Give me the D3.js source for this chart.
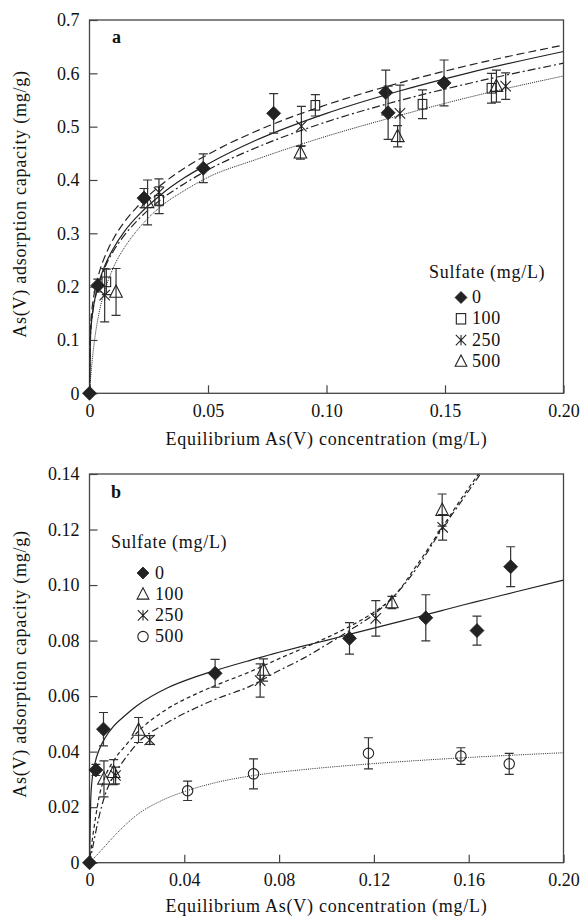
<!DOCTYPE html>
<html><head><meta charset="utf-8">
<script src="https://cdn.jsdelivr.net/npm/d3@7"></script>
<style>
body{margin:0;background:#fff} svg{display:block}
svg text{font-family:'Liberation Serif','Times New Roman','DejaVu Serif',serif !important;}
</style>
</head><body>
<svg id="c" width="582" height="916"></svg>
<script>
// ---------- Panel a data ----------
const aXTicks = [0, 0.05, 0.10, 0.15, 0.20];
const aXTickLabels = ["0", "0.05", "0.10", "0.15", "0.20"];
const aYTicks = [0, 0.1, 0.2, 0.3, 0.4, 0.5, 0.6, 0.7];
const aYTickLabels = ["0", "0.1", "0.2", "0.3", "0.4", "0.5", "0.6", "0.7"];
const aLegendLabels = ["0", "100", "250", "500"];

const aX0 = [0, 0.0035, 0.023, 0.048, 0.0777, 0.125, 0.126, 0.1496];
const aY0 = [0, 0.202, 0.366, 0.422, 0.525, 0.564, 0.526, 0.582];
const aE0 = [0, 0.012, 0.018, 0.027, 0.037, 0.042, 0.05, 0.043];

const aX100 = [0.0071, 0.0294, 0.0953, 0.1405, 0.1696];
const aY100 = [0.209, 0.362, 0.540, 0.542, 0.572];
const aE100 = [0.024, 0.025, 0.02, 0.027, 0.028];

const aX250 = [0.0064, 0.0293, 0.0894, 0.131, 0.1756];
const aY250 = [0.184, 0.377, 0.501, 0.525, 0.576];
const aE250 = [0.05, 0.025, 0.037, 0.053, 0.025];

const aX500 = [0.0112, 0.0245, 0.089, 0.130, 0.1717];
const aY500 = [0.19, 0.358, 0.451, 0.482, 0.576];
const aE500 = [0.044, 0.042, 0.012, 0.02, 0.03];

const aFitX   = [0, 0.0005, 0.001, 0.002, 0.004, 0.007, 0.01, 0.015, 0.02, 0.03, 0.04, 0.05, 0.07, 0.1, 0.13, 0.16, 0.2];
const aFit0   = [0, 0.115, 0.140, 0.171, 0.208, 0.245, 0.271, 0.305, 0.331, 0.372, 0.404, 0.430, 0.474, 0.525, 0.566, 0.601, 0.641];
const aFit100 = [0, 0.128, 0.155, 0.187, 0.225, 0.262, 0.289, 0.323, 0.349, 0.390, 0.422, 0.448, 0.491, 0.541, 0.581, 0.615, 0.653];
const aFit250 = [0, 0.114, 0.139, 0.169, 0.205, 0.241, 0.266, 0.298, 0.323, 0.363, 0.393, 0.419, 0.460, 0.509, 0.548, 0.581, 0.619];
const aFit500 = [0, 0.030, 0.055, 0.095, 0.150, 0.200, 0.235, 0.275, 0.305, 0.350, 0.380, 0.405, 0.438, 0.482, 0.520, 0.555, 0.595];

// ---------- Panel b data ----------
const bXTicks = [0, 0.04, 0.08, 0.12, 0.16, 0.20];
const bXTickLabels = ["0", "0.04", "0.08", "0.12", "0.16", "0.20"];
const bYTicks = [0, 0.02, 0.04, 0.06, 0.08, 0.10, 0.12, 0.14];
const bYTickLabels = ["0", "0.02", "0.04", "0.06", "0.08", "0.10", "0.12", "0.14"];
const bLegendLabels = ["0", "100", "250", "500"];

const bX0 = [0, 0.0027, 0.0059, 0.053, 0.1097, 0.1419, 0.1635, 0.1777];
const bY0 = [0, 0.0334, 0.0481, 0.0682, 0.0808, 0.0882, 0.0836, 0.1066];
const bE0 = [0, 0.002, 0.006, 0.005, 0.0057, 0.0083, 0.0052, 0.0072];

const bX100 = [0.0061, 0.0102, 0.0207, 0.0734, 0.1276, 0.1488];
const bY100 = [0.0302, 0.0326, 0.0478, 0.0694, 0.0937, 0.127];
const bE100 = [0.0065, 0.0045, 0.0045, 0.004, 0.0022, 0.0058];

const bX250 = [0.011, 0.0254, 0.072, 0.1208, 0.149];
const bY250 = [0.0314, 0.0442, 0.0656, 0.088, 0.1208];
const bE250 = [0.003, 0.0016, 0.006, 0.0064, 0.0046];

const bX500 = [0.0414, 0.0692, 0.1177, 0.1567, 0.1771];
const bY500 = [0.0259, 0.032, 0.0394, 0.0384, 0.0356];
const bE500 = [0.0035, 0.0054, 0.0056, 0.003, 0.0038];

const bFitX0 = [0, 0.0005, 0.001, 0.0025, 0.004, 0.0066, 0.01, 0.015, 0.02, 0.033, 0.045, 0.053, 0.0678, 0.08, 0.09, 0.1, 0.11, 0.12, 0.1283, 0.138, 0.149, 0.158, 0.167, 0.18, 0.2];
const bFit0   = [0, 0.022, 0.029, 0.0365, 0.0405, 0.045, 0.049, 0.053, 0.0565, 0.063, 0.067, 0.0692, 0.0729, 0.0758, 0.078, 0.0801, 0.0823, 0.0845, 0.0863, 0.0884, 0.0909, 0.0929, 0.0948, 0.0976, 0.1018];
const bFitX = [0, 0.001, 0.0025, 0.004, 0.0066, 0.01, 0.015, 0.02, 0.033, 0.045, 0.053, 0.0678, 0.08, 0.09, 0.1, 0.11, 0.12, 0.1283, 0.138, 0.149, 0.158, 0.167];
const bFit100 = [0, 0.007, 0.016, 0.0235, 0.031, 0.0365, 0.042, 0.0468, 0.0555, 0.0608, 0.0638, 0.0688, 0.0735, 0.0772, 0.081, 0.0852, 0.0902, 0.0958, 0.107, 0.121, 0.1325, 0.1435];
const bFit250 = [0, 0.004, 0.0105, 0.0165, 0.0245, 0.031, 0.0375, 0.0428, 0.0505, 0.0558, 0.0588, 0.0636, 0.0692, 0.0735, 0.0785, 0.0838, 0.0895, 0.0958, 0.106, 0.1205, 0.1315, 0.1425];
const bFitX500 = [0, 0.005, 0.01, 0.015, 0.02, 0.03, 0.0414, 0.053, 0.07, 0.09, 0.12, 0.16, 0.2];
const bFit500  = [0, 0.0045, 0.0092, 0.0135, 0.0172, 0.0222, 0.026, 0.0288, 0.0315, 0.0335, 0.0357, 0.0379, 0.0396];

// ---------- drawing ----------
const FONT = "'Liberation Serif','Times New Roman','DejaVu Serif',serif";
const svg = d3.select('#c');
const INK = '#222';

function marker(g, type, size) {
  const s = size;
  if (type === 'diamond') {
    g.append('path').attr('d', `M0,${-s}L${s},0L0,${s}L${-s},0Z`).attr('fill', INK).attr('stroke', INK).attr('stroke-width', 0.8);
  } else if (type === 'square') {
    g.append('rect').attr('x', -s*0.72).attr('y', -s*0.8).attr('width', s*1.44).attr('height', s*1.6)
      .attr('fill', 'none').attr('stroke', INK).attr('stroke-width', 1.1);
  } else if (type === 'star') {
    const h = s*0.8;
    g.append('path').attr('d', `M${-h},${-h}L${h},${h}M${-h},${h}L${h},${-h}M0,${-h}L0,${h}`)
      .attr('fill', 'none').attr('stroke', INK).attr('stroke-width', 1.1);
  } else if (type === 'triangle') {
    g.append('path').attr('d', `M0,${-s}L${s*0.9},${s*0.75}L${-s*0.9},${s*0.75}Z`)
      .attr('fill', 'none').attr('stroke', INK).attr('stroke-width', 1.1);
  } else if (type === 'circle') {
    g.append('circle').attr('r', s*0.8).attr('fill', 'none').attr('stroke', INK).attr('stroke-width', 1.1);
  }
}

function drawPanel(cfg) {
  const x = d3.scaleLinear().domain([0, cfg.xMax]).range([cfg.left, cfg.right]);
  const y = d3.scaleLinear().domain([0, cfg.yMax]).range([cfg.bottom, cfg.top]);
  const g = svg.append('g');
  const clipId = 'clip' + cfg.label;
  svg.append('clipPath').attr('id', clipId).append('rect')
    .attr('x', cfg.left).attr('y', cfg.top).attr('width', cfg.right - cfg.left).attr('height', cfg.bottom - cfg.top);

  const ax = d3.axisBottom(x).tickValues(cfg.xTicks).tickSizeInner(-8).tickSizeOuter(0).tickPadding(11)
    .tickFormat((d, i) => cfg.xTickLabels[i]);
  const ay = d3.axisLeft(y).tickValues(cfg.yTicks).tickSizeInner(-8).tickSizeOuter(0).tickPadding(10)
    .tickFormat((d, i) => cfg.yTickLabels[i]);
  const gx = g.append('g').attr('transform', `translate(0,${cfg.bottom})`).call(ax);
  const gy = g.append('g').attr('transform', `translate(${cfg.left},0)`).call(ay);
  [gx, gy].forEach(a => {
    a.attr('font-family', FONT).attr('font-size', 18);
    a.select('.domain').remove();
    a.selectAll('line').attr('stroke', '#444').attr('stroke-width', 1.2);
    a.selectAll('text').attr('font-family', FONT).attr('font-size', 18).attr('fill', '#111');
  });

  g.append('rect').attr('x', cfg.left).attr('y', cfg.top).attr('width', cfg.right - cfg.left)
    .attr('height', cfg.bottom - cfg.top).attr('fill', 'none').attr('stroke', '#444').attr('stroke-width', 1.3);

  const line = d3.line().x(d => x(d[0])).y(d => y(d[1])).curve(d3.curveMonotoneX);
  cfg.fits.forEach(f => {
    g.append('path').attr('clip-path', `url(#${clipId})`)
      .datum(f.xs.map((v, i) => [v, f.ys[i]]))
      .attr('d', line).attr('fill', 'none').attr('stroke', INK)
      .attr('stroke-width', f.w || 1.2).attr('stroke-dasharray', f.dash || null);
  });

  cfg.series.forEach(s => {
    s.xs.forEach((v, i) => {
      const cx = x(v), cy = y(s.ys[i]), e = s.es[i];
      if (e > 0) {
        const y1 = y(s.ys[i] + e), y2 = y(s.ys[i] - e);
        g.append('path').attr('d', `M${cx},${y1}L${cx},${y2}M${cx-4.5},${y1}L${cx+4.5},${y1}M${cx-4.5},${y2}L${cx+4.5},${y2}`)
          .attr('stroke', '#333').attr('stroke-width', 1.2).attr('fill', 'none');
      }
      marker(g.append('g').attr('transform', `translate(${cx},${cy})`), s.type, s.size);
    });
  });

  g.append('text').attr('x', cfg.labelX).attr('y', cfg.labelY).text(cfg.label)
    .attr('font-family', FONT).attr('font-size', 18).attr('font-weight', 'bold').attr('fill', '#111');

  const L = cfg.legend;
  g.append('text').attr('x', L.x).attr('y', L.y).text('Sulfate (mg/L)')
    .attr('font-family', FONT).attr('font-size', 18).attr('letter-spacing', 0.7).attr('fill', '#111');
  L.types.forEach((t, i) => {
    const yy = L.y + L.first + i * L.step;
    marker(g.append('g').attr('transform', `translate(${L.mx},${yy - 5.5})`), t, t === 'diamond' ? 6 : 6.5);
    g.append('text').attr('x', L.tx).attr('y', yy).text(L.labels[i])
      .attr('font-family', FONT).attr('font-size', 18).attr('letter-spacing', 0.6).attr('fill', '#111');
  });

  g.append('text').attr('x', (cfg.left + cfg.right) / 2).attr('y', cfg.xTitleY)
    .attr('text-anchor', 'middle').text('Equilibrium As(V) concentration (mg/L)')
    .attr('font-family', FONT).attr('font-size', 18).attr('letter-spacing', 0.75).attr('fill', '#111');
  g.append('text').attr('transform', `translate(26,${cfg.yTitleY}) rotate(-90)`)
    .attr('text-anchor', 'middle').text('As(V) adsorption capacity (mg/g)')
    .attr('font-family', FONT).attr('font-size', 18).attr('letter-spacing', 0.75).attr('fill', '#111');
}

drawPanel({
  label: 'a', labelX: 112, labelY: 43,
  left: 89.5, right: 563.5, top: 20, bottom: 393.3,
  xMax: 0.2, yMax: 0.7,
  xTicks: aXTicks, xTickLabels: aXTickLabels, yTicks: aYTicks, yTickLabels: aYTickLabels,
  xTitleY: 445, yTitleY: 204,
  fits: [
    { xs: aFitX, ys: aFit0 },
    { xs: aFitX, ys: aFit100, dash: '8,4' },
    { xs: aFitX, ys: aFit250, dash: '8,3,2,3' },
    { xs: aFitX, ys: aFit500, dash: '1,1', w: 1 }
  ],
  series: [
    { xs: aX100, ys: aY100, es: aE100, type: 'square', size: 6 },
    { xs: aX250, ys: aY250, es: aE250, type: 'star', size: 6.5 },
    { xs: aX500, ys: aY500, es: aE500, type: 'triangle', size: 7 },
    { xs: aX0, ys: aY0, es: aE0, type: 'diamond', size: 7 }
  ],
  legend: { x: 429, y: 278, first: 25, step: 21.3, mx: 461, tx: 472,
            types: ['diamond', 'square', 'star', 'triangle'], labels: aLegendLabels }
});

drawPanel({
  label: 'b', labelX: 111, labelY: 497.5,
  left: 89.5, right: 563.5, top: 474, bottom: 862.7,
  xMax: 0.2, yMax: 0.14,
  xTicks: bXTicks, xTickLabels: bXTickLabels, yTicks: bYTicks, yTickLabels: bYTickLabels,
  xTitleY: 912, yTitleY: 664,
  fits: [
    { xs: bFitX0, ys: bFit0 },
    { xs: bFitX, ys: bFit100, dash: '4,3' },
    { xs: bFitX, ys: bFit250, dash: '7,3,2,3' },
    { xs: bFitX500, ys: bFit500, dash: '1,1.2', w: 1 }
  ],
  series: [
    { xs: bX500, ys: bY500, es: bE500, type: 'circle', size: 6.5 },
    { xs: bX250, ys: bY250, es: bE250, type: 'star', size: 6.5 },
    { xs: bX100, ys: bY100, es: bE100, type: 'triangle', size: 7 },
    { xs: bX0, ys: bY0, es: bE0, type: 'diamond', size: 7 }
  ],
  legend: { x: 111, y: 548, first: 30.5, step: 21.2, mx: 143, tx: 155,
            types: ['diamond', 'triangle', 'star', 'circle'], labels: bLegendLabels }
});
</script>
</body></html>
